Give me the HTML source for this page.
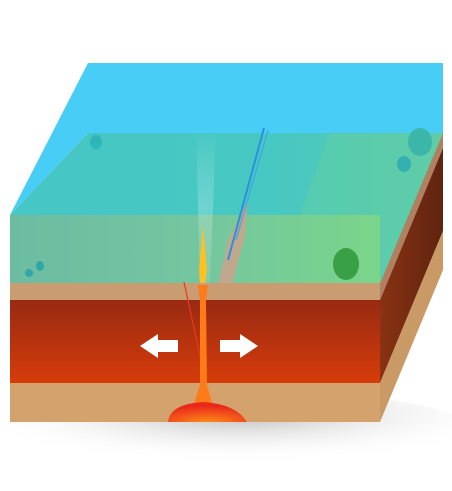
<!DOCTYPE html>
<html><head><meta charset="utf-8"><style>
html,body{margin:0;padding:0;background:#fff;width:452px;height:491px;overflow:hidden}
</style></head><body>
<svg width="452" height="491" viewBox="0 0 452 491" xmlns="http://www.w3.org/2000/svg">
<defs>
<linearGradient id="mantle" x1="0" y1="0" x2="0" y2="1"><stop offset="0" stop-color="#982a12"/><stop offset="1" stop-color="#d63c0a"/></linearGradient>
<linearGradient id="landTop" x1="0" y1="0" x2="1" y2="0"><stop offset="0" stop-color="#46c6c4"/><stop offset="0.6" stop-color="#48c8c2"/><stop offset="1" stop-color="#58cbb0"/></linearGradient>
<linearGradient id="landFront" x1="0" y1="0" x2="1" y2="0"><stop offset="0" stop-color="#6cbca2"/><stop offset="0.5" stop-color="#74c6a0"/><stop offset="1" stop-color="#7ad58a"/></linearGradient>
<linearGradient id="sideMantle" x1="0" y1="0" x2="1" y2="0"><stop offset="0" stop-color="#8a3212"/><stop offset="1" stop-color="#5e2410"/></linearGradient>
<radialGradient id="shadow" cx="0.5" cy="0.3" r="0.6"><stop offset="0" stop-color="#bbb"/><stop offset="1" stop-color="#fff" stop-opacity="0"/></radialGradient>
<radialGradient id="dome" cx="0.5" cy="1" r="0.8"><stop offset="0" stop-color="#ff8a1a"/><stop offset="1" stop-color="#e8281a"/></radialGradient>
<linearGradient id="plume" x1="0" y1="0" x2="0" y2="1"><stop offset="0" stop-color="#ffffff" stop-opacity="0"/><stop offset="0.5" stop-color="#e8f6f6" stop-opacity="0.25"/><stop offset="1" stop-color="#ffffff" stop-opacity="0.1"/></linearGradient>
</defs>
<ellipse cx="240" cy="430" rx="230" ry="40" fill="url(#shadow)"/>
<polygon points="443,63 443,131 380,283 380,215" fill="#5fd2f0"/>
<polygon points="443,131 443,148 380,300 380,283" fill="#b08060"/>
<polygon points="443,148 443,231 380,383 380,300" fill="url(#sideMantle)"/>
<polygon points="443,231 443,270 380,422 380,383" fill="#c99a66"/>
<polygon points="88,63 443,63 443,133 88,133 10,215" fill="#48cdf6"/>
<polygon points="88,133 443,133 380,283 380,215 10,215" fill="url(#landTop)"/>
<rect x="10" y="215" width="370" height="68" fill="url(#landFront)"/>
<polygon points="330,133 443,133 380,283 380,215 300,215" fill="#6cd098" opacity="0.35"/>
<polygon points="196,130 216,130 210,283 200,283" fill="url(#plume)"/>
<polygon points="228,240 248,200 244,240 238,262 232,285 218,285" fill="#c0a88e"/>
<line x1="264" y1="128" x2="228" y2="260" stroke="#2a90e0" stroke-width="2"/>
<line x1="268" y1="130" x2="236" y2="240" stroke="#3aa0e8" stroke-width="1.5" opacity="0.7"/>
<polygon points="203,225 207,270 205,283 200,283 199,270" fill="#ffc020"/>
<ellipse cx="420" cy="142" rx="12" ry="14" fill="#3bb6a8"/>
<ellipse cx="404" cy="164" rx="7" ry="8" fill="#35b0b0"/>
<ellipse cx="346" cy="264" rx="13" ry="16" fill="#3aa046"/>
<ellipse cx="96" cy="142" rx="6" ry="7" fill="#2fb4b8"/>
<ellipse cx="40" cy="266" rx="4" ry="5" fill="#30a8a8"/>
<ellipse cx="29" cy="273" rx="4" ry="4" fill="#30a8a8"/>
<rect x="10" y="283" width="370" height="17" fill="#c99c72"/>
<rect x="10" y="300" width="370" height="83" fill="url(#mantle)"/>
<rect x="10" y="383" width="370" height="39" fill="#d4a26c"/>
<line x1="184" y1="282" x2="202" y2="365" stroke="#e83820" stroke-width="1.2"/>
<polygon points="198,285 208,285 206,300 207,385 214,410 192,410 200,385 200,300" fill="#ff7a18"/>
<path d="M168,422 Q170,404 203,402 Q236,404 247,422 Z" fill="url(#dome)"/>
<polygon points="140,346 158,334 158,340 178,340 178,352 158,352 158,358" fill="#fff"/>
<polygon points="258,346 240,334 240,340 220,340 220,352 240,352 240,358" fill="#fff"/>
</svg>
</body></html>
